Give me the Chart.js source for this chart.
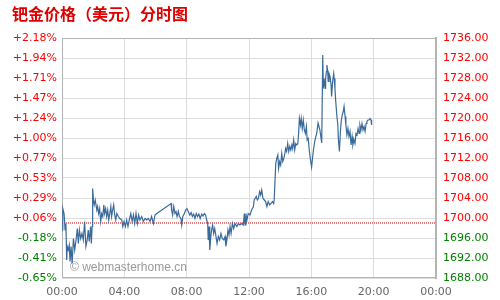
<!DOCTYPE html>
<html>
<head>
<meta charset="utf-8">
<script src="https://cdn.jsdelivr.net/npm/chart.js@4"></script>
<style>
  html, body { margin: 0; padding: 0; background: #fff; }
  #wrap { width: 500px; height: 300px; }
</style>
</head>
<body>
<div id="wrap"><canvas id="myChart" width="500" height="300"></canvas></div>
<script>
// chart data (minutes since 00:00, price in USD)
var prevClose = 1699;
var times = [
  0,3,8,12,15,18,20,24,28,31,35,39,44,49,54,59,63,67,72,77,
  82,87,92,97,101,105,110,113,116,118,121,124,128,134,137,141,145,149,153,157,
  161,164,168,172,176,180,184,188,191,195,199,203,207,211,217,223,230,234,239,244,
  249,254,259,265,270,275,280,285,290,295,300,307,313,320,326,332,339,345,352,358,365,
  420,422,426,430,435,439,443,448,452,458,461,465,471,476,481,486,492,497,502,507,
  512,517,522,527,532,538,543,548,553,557,561,563,566,569,573,576,580,584,588,592,
  597,602,607,612,617,623,628,631,635,639,643,647,651,656,661,666,673,679,685,692,
  698,702,705,708,712,717,724,730,737,740,748,752,756,761,765,769,774,779,784,789,
  794,800,805,810,815,817,823,827,831,834,838,842,846,850,854,858,861,865,869,873,
  877,881,885,888,892,896,900,904,908,911,914,918,921,925,929,933,937,941,944,948,
  952,956,961,968,974,981,986,993,1000,1004,1006,1009,1013,1015,1018,1020,1023,1025,1028,1032,
  1036,1038,1042,1046,1048,1051,1054,1058,1062,1064,1068,1072,1075,1079,1083,1086,1090,1093,1097,1101,
  1105,1109,1113,1117,1120,1124,1128,1132,1136,1140,1144,1147,1151,1155,1159,1163,1167,1171,1174,1178,
  1182,1186,1190,1192
];
var prices = [
  1697.6,1701.9,1700.9,1697.6,1698.9,1691.6,1694.3,1693.6,1694.6,1691.3,1694.3,1690.9,1695.9,1693.6,1695.6,1697.9,1694.9,1697.6,1695.9,1696.9,
  1695.6,1699.3,1694.3,1695.6,1697.6,1695.3,1698.3,1694.9,1698.3,1705.9,1703.6,1702.6,1703.6,1701.6,1702.3,1700.9,1701.9,1699.3,1700.9,1700.3,
  1702.6,1700.9,1701.9,1700.3,1701.6,1699.6,1700.9,1702.3,1700.3,1701.6,1702.6,1700.6,1699.6,1700.9,1700.3,1699.9,1699.6,1698.3,1699.3,1698.3,
  1699.6,1698.3,1699.6,1700.9,1699.3,1700.6,1698.9,1700.9,1698.9,1700.6,1699.6,1700.3,1699.3,1699.9,1699.6,1699.9,1699.3,1700.3,1698.9,1700.6,1700.9,
  1702.9,1701.6,1700.6,1702.3,1700.9,1701.3,1700.3,1701.3,1700.3,1699.9,1698.6,1700.3,1700.9,1701.6,1701.9,1701.3,1700.6,1701.1,1700.3,1700.8,
  1699.9,1700.9,1700.3,1700.8,1699.9,1700.8,1700.4,1700.9,1700.6,1699.6,1698.9,1695.6,1698.3,1693.6,1696.3,1697.6,1698.6,1696.9,1697.9,1696.6,
  1694.9,1696.3,1695.6,1696.9,1695.9,1695.6,1696.3,1694.3,1695.6,1697.6,1696.6,1698.3,1696.9,1698.9,1697.9,1698.9,1698.3,1698.9,1698.6,1698.9,
  1698.6,1700.9,1698.6,1700.9,1699.6,1700.9,1700.6,1701.6,1702.3,1703.6,1704.3,1703.6,1703.9,1705.3,1704.6,1705.6,1703.9,1703.6,1703.3,1702.3,
  1703.3,1702.6,1702.9,1703.3,1702.9,1703.6,1710.9,1711.9,1712.6,1709.9,1711.3,1710.6,1712.9,1711.3,1711.9,1712.9,1713.9,1713.3,1714.9,1713.3,
  1714.3,1713.6,1714.6,1713.9,1715.6,1713.6,1714.9,1714.6,1714.9,1716.9,1719.9,1718.6,1719.9,1717.9,1719.6,1717.6,1716.9,1718.3,1715.6,1715.9,
  1713.6,1711.9,1710.2,1713.6,1715.6,1717.0,1719.0,1717.6,1715.0,1732.6,1725.9,1727.9,1725.9,1727.9,1729.3,1730.6,1729.3,1727.3,1728.9,1728.3,
  1726.6,1724.3,1727.3,1728.9,1727.9,1725.9,1723.3,1720.6,1718.6,1715.9,1713.3,1717.3,1719.3,1720.6,1721.3,1722.3,1720.3,1718.6,1716.6,1717.9,
  1716.3,1717.3,1714.6,1716.3,1714.6,1715.6,1714.9,1716.9,1716.6,1717.9,1716.9,1718.6,1717.6,1718.9,1717.6,1718.3,1717.3,1718.9,1719.3,1719.6,
  1719.6,1719.9,1719.6,1718.6
];
var priceMin = 1688;
var priceMax = 1736;
var priceStep = 4;
var timeStep = 240;

var red = '#ff0000';
var green = '#008000';

// turn minutes into HH:MM
function hhmm(m) {
    m = m % 1440;
    var h = Math.floor(m / 60), mm = m % 60;
    return (h < 10 ? '0' : '') + h + ':' + (mm < 10 ? '0' : '') + mm;
}

var points = times.map(function (t, i) { return { x: t, y: prices[i] }; });

// frame round the plot and the watermark
var framePlugin = {
    id: 'frame',
    beforeDatasetsDraw: function (chart) {
        var c = chart.ctx, a = chart.chartArea;
        c.save();
        c.font = '12px "Liberation Sans", Arial, sans-serif';
        c.fillStyle = '#9a9a9a';
        c.textBaseline = 'middle';
        c.fillText('\u00a9 webmasterhome.cn', a.left + 8, a.bottom - 10);
        c.strokeStyle = '#b4b4b4';
        c.lineWidth = 1;
        c.strokeRect(Math.round(a.left) + 0.5, Math.round(a.top) + 0.5,
                     Math.round(a.right - a.left) - 1, Math.round(a.bottom - a.top) - 1);
        c.restore();
    }
};

var ctx = document.getElementById('myChart').getContext('2d');
var myChart = new Chart(ctx, {
    type: 'line',
    data: {
        datasets: [
            {
                data: points,
                borderColor: '#3a6a9c',
                borderWidth: 1.2,
                pointRadius: 0,
                tension: 0,
                yAxisID: 'y'
            },
            {
                data: [{ x: 0, y: prevClose }, { x: 1440, y: prevClose }],
                borderColor: '#cc0000',
                borderWidth: 1,
                borderDash: [1, 1],
                pointRadius: 0,
                yAxisID: 'y'
            }
        ]
    },
    options: {
        responsive: false,
        animation: false,
        devicePixelRatio: 1,
        layout: { padding: { left: 12, right: 0, top: 0, bottom: 0 } },
        plugins: {
            legend: { display: false },
            tooltip: { enabled: false },
            title: {
                display: true,
                text: '钯金价格（美元）分时图',
                align: 'start',
                color: '#dd0000',
                font: { family: '"Noto Sans CJK SC", sans-serif', size: 16, weight: 'bold' },
                padding: { top: 4, bottom: 14.8 }
            }
        },
        scales: {
            x: {
                type: 'linear',
                min: 0,
                max: 1440,
                grid: { color: '#dddddd', drawTicks: false },
                border: { display: false },
                ticks: {
                    stepSize: timeStep,
                    autoSkip: false,
                    maxRotation: 0,
                    padding: 8,
                    color: '#666666',
                    font: { family: '"DejaVu Sans", Verdana, sans-serif', size: 11 },
                    callback: function (v) { return hhmm(v); }
                },
                afterFit: function (s) { s.height = 22; }
            },
            y: {
                position: 'left',
                min: priceMin,
                max: priceMax,
                grid: { color: '#dddddd', drawTicks: false },
                border: { display: false },
                ticks: {
                    stepSize: priceStep,
                    padding: 5,
                    font: { family: '"DejaVu Sans", Verdana, sans-serif', size: 11 },
                    color: function (c) { return c.tick.value > prevClose ? red : green; },
                    callback: function (v) {
                        var p = (v - prevClose) / prevClose * 100;
                        return (p >= 0 ? '+' : '') + p.toFixed(2) + '%';
                    }
                },
                afterFit: function (s) { s.width = 50; }
            },
            y2: {
                position: 'right',
                min: priceMin,
                max: priceMax,
                grid: { display: false, drawTicks: false },
                border: { display: true, color: '#b4b4b4', width: 2 },
                ticks: {
                    stepSize: priceStep,
                    padding: 7,
                    font: { family: '"DejaVu Sans", Verdana, sans-serif', size: 11 },
                    color: function (c) { return c.tick.value > prevClose ? red : green; },
                    callback: function (v) { return v.toFixed(2); }
                },
                afterFit: function (s) { s.width = 64; }
            }
        }
    },
    plugins: [framePlugin]
});
</script>
</body>
</html>
